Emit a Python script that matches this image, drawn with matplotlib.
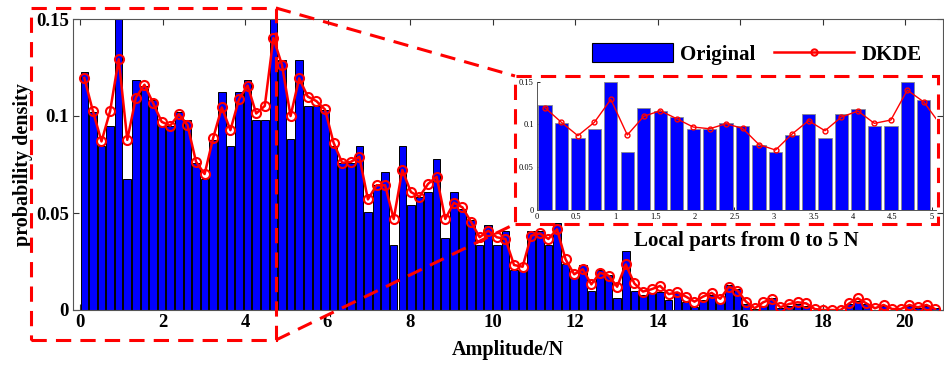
import numpy as np
import matplotlib
matplotlib.use("Agg")
import matplotlib.pyplot as plt
from matplotlib.patches import Rectangle, Patch
from matplotlib.lines import Line2D

plt.rcParams['font.family'] = ['Liberation Serif', 'DejaVu Serif']
plt.rcParams['font.weight'] = 'bold'
plt.rcParams['axes.labelweight'] = 'bold'

# ---- data (histogram bins of width 5/24 N) ----
bin_width = 5 / 24
original = [
    0.1227, 0.102, 0.0845, 0.095, 0.150, 0.0674, 0.1188, 0.1153, 0.1083, 0.095,
    0.095, 0.102, 0.098, 0.076, 0.0674, 0.0877, 0.1122, 0.0845, 0.1122, 0.1184,
    0.098, 0.098, 0.150, 0.129, 0.088, 0.1289, 0.105, 0.105, 0.103, 0.0845,
    0.0756, 0.0756, 0.0847, 0.0507, 0.0643, 0.0711, 0.0335, 0.0847, 0.0541, 0.0584,
    0.061, 0.0778, 0.0373, 0.061, 0.0519, 0.0464, 0.0335, 0.0438, 0.0335, 0.0407,
    0.0206, 0.0201, 0.0407, 0.0407, 0.0335, 0.0447, 0.0235, 0.0163, 0.0232, 0.0098,
    0.0206, 0.018, 0.006, 0.0306, 0.0098, 0.0077, 0.0086, 0.0095, 0.0052, 0.0086,
    0.0043, 0.0014, 0.0052, 0.0077, 0.0034, 0.013, 0.011, 0.003, 0.0005, 0.002,
    0.006, 0.001, 0.002, 0.003, 0.002, 0.0, 0.0, 0.0, 0.0, 0.003,
    0.0045, 0.003, 0.0, 0.002, 0.0, 0.0, 0.002, 0.001, 0.002, 0.001]
dkde = [
    0.1196, 0.1025, 0.0869, 0.1025, 0.1293, 0.0877, 0.1095, 0.1161, 0.1067, 0.097,
    0.095, 0.1009, 0.0954, 0.0764, 0.0701, 0.0888, 0.1044, 0.0927, 0.1087, 0.1157,
    0.1013, 0.1052, 0.1402, 0.1263, 0.100, 0.1194, 0.110, 0.1077, 0.1034, 0.0863,
    0.0759, 0.0763, 0.079, 0.057, 0.0643, 0.0643, 0.0469, 0.0722, 0.0608, 0.0584,
    0.065, 0.0687, 0.0469, 0.0553, 0.0529, 0.0454, 0.0375, 0.0409, 0.0375, 0.0366,
    0.0232, 0.0223, 0.0383, 0.0395, 0.0366, 0.0416, 0.0261, 0.0184, 0.021, 0.0132,
    0.0192, 0.0177, 0.012, 0.0235, 0.0137, 0.0095, 0.0107, 0.0124, 0.0082, 0.0091,
    0.0069, 0.0043, 0.0069, 0.0088, 0.0058, 0.012, 0.010, 0.0043, 0.0009, 0.004,
    0.0057, 0.0014, 0.0031, 0.004, 0.0034, 0.0005, 0.0, 0.0, 0.0, 0.0034,
    0.006, 0.0034, 0.0009, 0.0026, 0.0005, 0.0005, 0.0026, 0.0014, 0.0026, 0.0005]
n_local = 24  # bins shown in the zoomed inset (0 to 5 N)

main_xticks = list(range(0, 21, 2))
main_yticks = [0, 0.05, 0.1, 0.15]
main_yticklabels = ['0', '0.05', '0.1', '0.15']
inset_xticks = [0, 0.5, 1, 1.5, 2, 2.5, 3, 3.5, 4, 4.5, 5]
inset_xticklabels = ['0', '0.5', '1', '1.5', '2', '2.5', '3', '3.5', '4', '4.5', '5']

W, H = 944, 367
fig = plt.figure(figsize=(W / 100, H / 100), dpi=100)


def fx(px):
    return px / W


def fy(py):
    return 1 - py / H


centers = (np.arange(len(original)) + 0.5) * bin_width

# ---- main axes ----
ax = fig.add_axes([fx(73), fy(310), fx(943) - fx(73), fy(19) - fy(310)])
ax.bar(centers, original, width=0.88 * bin_width, color='#0000ff',
       edgecolor='black', linewidth=0.7, zorder=2)
ax.plot(centers, dkde, '-o', color='red', lw=1.8, ms=6.5, mfc='none',
        mec='red', mew=1.5, zorder=3)
ax.set_xlim(-0.17, 20.92)
ax.set_ylim(0, 0.15)
ax.set_xticks(main_xticks)
ax.set_xticklabels([str(t) for t in main_xticks])
ax.set_yticks(main_yticks)
ax.set_yticklabels(main_yticklabels)
ax.tick_params(direction='in', top=True, right=True, length=4, width=0.8,
               labelsize=13.5, pad=3, color='#333333')
for s in ax.spines.values():
    s.set_color('#555555')
    s.set_linewidth(0.8)
ax.set_xlabel('Amplitude/N', fontsize=14.5, labelpad=6)
ax.set_ylabel('probability density', fontsize=14.5, labelpad=2)

handles = [Patch(facecolor='#0000ff', edgecolor='black', linewidth=0.8),
           Line2D([], [], color='red', lw=1.8, marker='o', ms=4.5, mfc='none', mew=1.5)]
ax.legend(handles, ['Original', 'DKDE'], ncol=2, frameon=False, fontsize=15,
          loc='center', bbox_to_anchor=(fx(757), fy(54)), bbox_transform=fig.transFigure,
          handlelength=3.85, handleheight=0.96, handletextpad=0.35,
          columnspacing=0.9, borderpad=0)

# ---- inset ----
axin = fig.add_axes([fx(536.7), fy(210), fx(936) - fx(536.7), fy(81.7) - fy(210)])
axin.bar(centers[:n_local], original[:n_local], width=0.81 * bin_width,
         color='#0000ff', edgecolor='#8a8a8a', linewidth=0.6, zorder=2)
axin.plot(centers, dkde, '-o', color='red', lw=1.0, ms=3.5, mfc='none',
          mec='red', mew=1.0, zorder=3)
axin.set_xlim(0, 5.05)
axin.set_ylim(0, 0.15)
axin.set_xticks(inset_xticks)
axin.set_xticklabels(inset_xticklabels)
axin.set_yticks(main_yticks)
axin.set_yticklabels(main_yticklabels)
axin.tick_params(direction='in', length=2, width=0.6, labelsize=6, pad=2)
for lbl in axin.get_xticklabels() + axin.get_yticklabels():
    lbl.set_fontweight('normal')
axin.spines['top'].set_visible(False)
axin.spines['right'].set_visible(False)
for s in ['left', 'bottom']:
    axin.spines[s].set_color('#555555')
    axin.spines[s].set_linewidth(0.7)

# ---- zoom annotation (dashed boxes and connectors) ----
dash = (0, (5, 3))
fig.add_artist(Rectangle((fx(31), fy(340)), fx(276) - fx(31), fy(8) - fy(340),
                         transform=fig.transFigure, fill=False, ec='red',
                         lw=2.2, ls=dash))
fig.add_artist(Rectangle((fx(515), fy(224)), fx(938) - fx(515), fy(76) - fy(224),
                         transform=fig.transFigure, fill=False, ec='red',
                         lw=2.2, ls=dash))
fig.add_artist(Line2D([fx(276), fx(515)], [fy(8), fy(76)], transform=fig.transFigure,
                      color='red', lw=2.2, ls=dash))
fig.add_artist(Line2D([fx(276), fx(515)], [fy(340), fy(224)], transform=fig.transFigure,
                      color='red', lw=2.2, ls=dash))

fig.text(fx(746), fy(241), 'Local parts from 0 to 5 N', ha='center', va='center',
         fontsize=15, fontweight='bold')

fig.savefig('out.png', dpi=100)
